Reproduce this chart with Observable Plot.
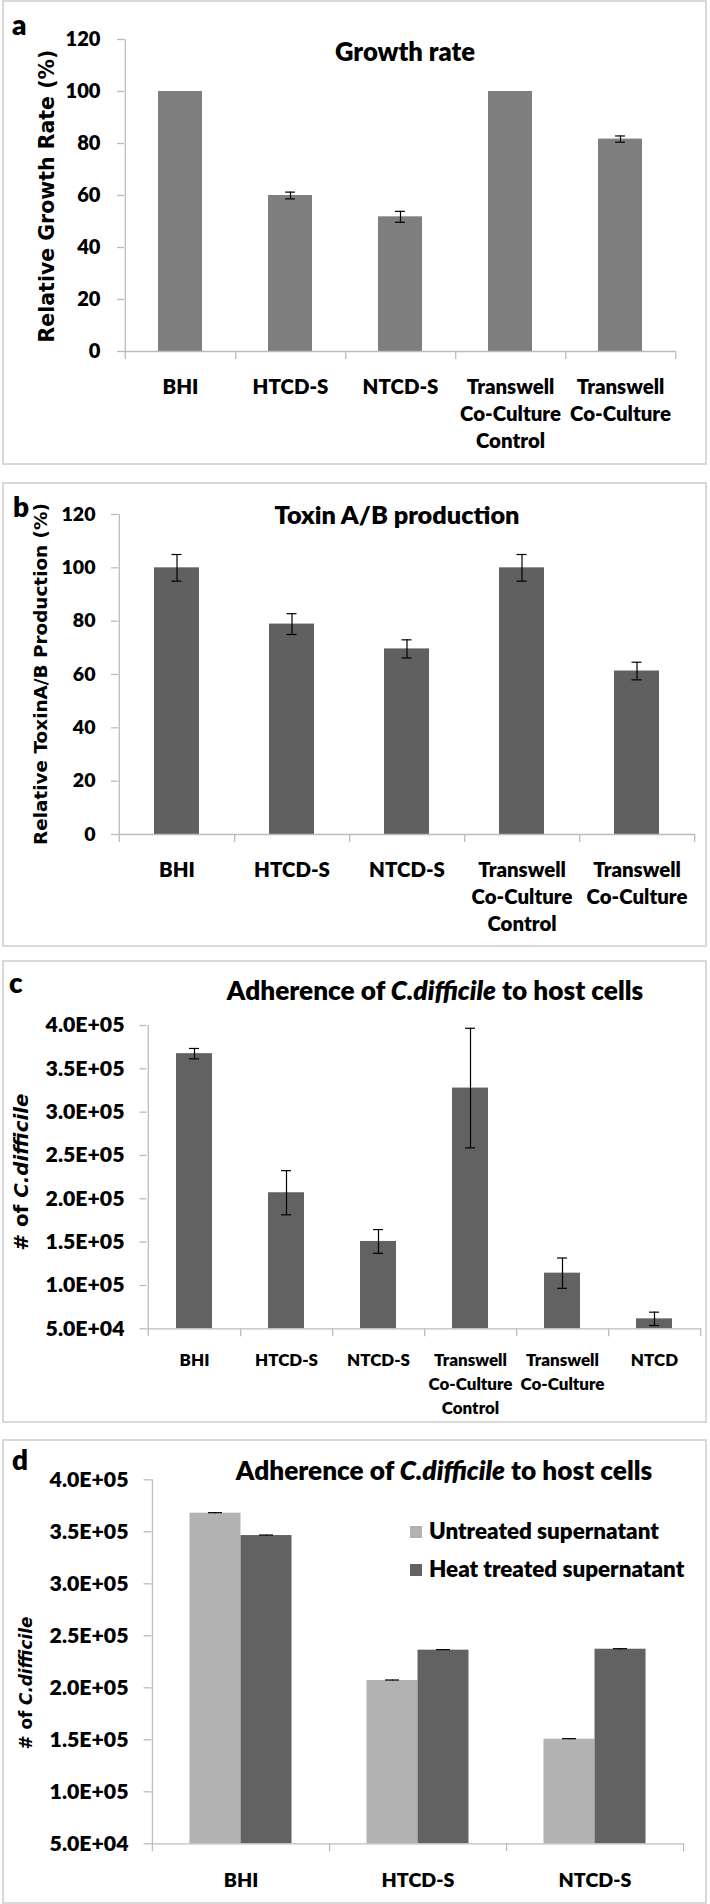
<!DOCTYPE html>
<html><head><meta charset="utf-8">
<script src="https://cdn.jsdelivr.net/npm/d3@7"></script>
<script src="https://cdn.jsdelivr.net/npm/@observablehq/plot@0.6"></script>
<style>
body{margin:0;background:#fff;}
#page{position:relative;width:710px;height:1904px;overflow:hidden;font-family:Lato,sans-serif;color:#000;}
.panel{position:absolute;left:2px;width:705px;box-sizing:border-box;border:2px solid #d9d9d9;z-index:5;pointer-events:none;}
.plotwrap{position:absolute;left:0;width:710px;}
.lbl{position:absolute;font-weight:800;font-size:28px;line-height:1;}
.title{position:absolute;font-weight:800;white-space:nowrap;transform:translate(-50%,-50%);line-height:1;}
.ytitle{position:absolute;font-family:"DejaVu Sans",sans-serif;font-weight:bold;white-space:nowrap;transform:translate(-50%,-50%) rotate(-90deg);line-height:1;}
.leg{position:absolute;font-weight:800;line-height:1;white-space:nowrap;}
.sw{position:absolute;width:12px;height:12px;}
</style></head><body><div id="page"></div>
<script>
// ---------- data ----------
const catsA = ["BHI", "HTCD-S", "NTCD-S", "Transwell Co-Culture Control", "Transwell Co-Culture"];
const labelsA = ["BHI", "HTCD-S", "NTCD-S", "Transwell\nCo-Culture\nControl", "Transwell\nCo-Culture"];
const growthRate = [100, 60, 51.8, 100, 81.7];
const growthErr = [0, 1.3, 2.1, 0, 1.2];
const toxinProd = [100, 78.9, 69.6, 100, 61.3];
const toxinErr = [5, 3.9, 3.4, 5, 3.3];
const catsC = ["BHI", "HTCD-S", "NTCD-S", "Transwell Co-Culture Control", "Transwell Co-Culture", "NTCD"];
const labelsC = ["BHI", "HTCD-S", "NTCD-S", "Transwell\nCo-Culture\nControl", "Transwell\nCo-Culture", "NTCD"];
const adherence = [367500, 207000, 150800, 327800, 114200, 61500];
const adherenceErr = [6000, 25500, 13700, 69000, 17500, 7700];
const catsD = ["BHI", "HTCD-S", "NTCD-S"];
const seriesD = ["Untreated supernatant", "Heat treated supernatant"];
const untreated = [367900, 207000, 150600];
const heatTreated = [346400, 236200, 237100];
const untreatedErr = [500, 500, 500];
const heatErr = [500, 500, 500];
const yTicksPct = [0, 20, 40, 60, 80, 100, 120];
const yTickLabelsPct = ["0", "20", "40", "60", "80", "100", "120"];
const yTicksCount = [50000, 100000, 150000, 200000, 250000, 300000, 350000, 400000];
const yTickLabelsCount = ["5.0E+04", "1.0E+05", "1.5E+05", "2.0E+05", "2.5E+05", "3.0E+05", "3.5E+05", "4.0E+05"];

const AXIS = "#bcbcbc";
const W = 800; // heavy weight for Lato text
const page = document.getElementById("page");

// font size fitting with canvas measurement
const cv = document.createElement("canvas").getContext("2d");
function textW(str, family, style, weight) {
  cv.font = `${style || "normal"} ${weight} 100px ${family}`;
  return cv.measureText(str).width;
}
function fit(parts, family, target, weight) {
  const w = parts.reduce((s, [t, st]) => s + textW(t, family, st, weight), 0);
  return 100 * target / w;
}
const LATO = "Lato";
const DJV = '"DejaVu Sans"';

function addDiv(cls, style, html) {
  const d = document.createElement("div");
  d.className = cls;
  Object.assign(d.style, style);
  if (html != null) d.innerHTML = html;
  page.appendChild(d);
  return d;
}

function axisMarks(o, cats, step) {
  const y0 = o.domain[0];
  const tickLabelOf = new Map(o.ticks.map((t, i) => [t, o.tickLabels[i]]));
  const labelOf = new Map(cats.map((c, i) => [c, o.labels[i]]));
  const xOffset = o.xCy - (o.axisY) - 0.36 * o.xFont;
  return [
    Plot.ruleY([y0], {stroke: AXIS, strokeWidth: 1.3}),
    Plot.ruleX([cats[0]], {x: d => d, dx: -step / 2, y1: () => o.domain[1], y2: () => y0, insetBottom: -8, stroke: AXIS, strokeWidth: 1.3}),
    Plot.ruleX(cats, {x: d => d, dx: step / 2, y1: () => y0, y2: () => y0, insetBottom: -8, stroke: AXIS, strokeWidth: 1.3}),
    Plot.axisY({ticks: o.ticks, tickFormat: d => tickLabelOf.get(d), tickSize: o.yTickSize, tickPadding: o.yPad,
      stroke: AXIS, strokeWidth: 1.3, fill: "#000", fontSize: o.tickFont, fontWeight: W, label: null}),
    Plot.axisX({tickSize: 0, tickPadding: xOffset, tickFormat: d => labelOf.get(d), fontSize: o.xFont,
      fontWeight: W, lineHeight: o.xLinePx / o.xFont, fill: "#000", label: null})
  ];
}

function barPanel(o) {
  const data = o.cats.map((c, i) => ({cat: c, v: o.values[i], e: o.errs[i]}));
  const n = o.cats.length;
  const step = (710 - o.ml - o.mr) / n;
  const bw = step * (1 - o.pad);
  const capInset = (bw - o.capW) / 2;
  const y0 = o.domain[0];
  const withErr = data.filter(d => d.e > 0);
  const chart = Plot.plot({
    width: 710, height: o.height,
    marginLeft: o.ml, marginRight: o.mr, marginTop: o.mt, marginBottom: o.mb,
    style: {fontFamily: "Lato, sans-serif", background: "transparent", overflow: "visible"},
    x: {type: "band", domain: o.cats, paddingInner: o.pad, paddingOuter: o.pad / 2},
    y: {domain: o.domain},
    marks: [
      Plot.barY(data, {x: "cat", y1: () => y0, y2: "v", fill: o.fill}),
      Plot.ruleX(withErr, {x: "cat", y1: d => d.v + d.e, y2: d => d.v - d.e, stroke: "#000", strokeWidth: 1.2}),
      Plot.tickY(withErr, {x: "cat", y: d => d.v + d.e, insetLeft: capInset, insetRight: capInset, stroke: "#000", strokeWidth: 1.2}),
      Plot.tickY(withErr, {x: "cat", y: d => d.v - d.e, insetLeft: capInset, insetRight: capInset, stroke: "#000", strokeWidth: 1.2}),
      ...axisMarks(o, o.cats, step)
    ]
  });
  const w = addDiv("plotwrap", {top: o.top + "px", height: o.height + "px"});
  w.appendChild(chart);
}

const cntTick = fit([["4.0E+05"]], LATO, 79, W);
const xFontAB = fit([["Co-Culture"]], LATO, 101, W);
const xFontC = fit([["Co-Culture"]], LATO, 84, W);
const xFontD = fit([["HTCD-S"]], LATO, 73, W);
const cdiffParts = [["Adherence of "], ["C.difficile", "italic"], [" to host cells"]];
const titleCD = fit(cdiffParts, LATO, 417, W);

// ---------- panel a ----------
addDiv("panel", {top: "0px", height: "465px"});
barPanel({top: 0, height: 465, ml: 124, mr: 34, mt: 39, mb: 114, axisY: 351,
  cats: catsA, labels: labelsA, values: growthRate, errs: growthErr, fill: "#7f7f7f",
  domain: [0, 120], ticks: yTicksPct, tickLabels: yTickLabelsPct, pad: 0.6, capW: 10,
  tickFont: fit([["120"]], LATO, 35, W), yTickSize: 7, yPad: 17, xFont: xFontAB, xLinePx: 27, xCy: 382});
addDiv("lbl", {left: "12px", top: "10px"}, "a");
addDiv("title", {left: "405px", top: "52px", fontSize: fit([["Growth rate"]], LATO, 140, W) + "px"}, "Growth rate");
addDiv("ytitle", {left: "47px", top: "196px", fontSize: fit([["Relative Growth Rate (%)"]], DJV, 293, "bold") + "px"}, "Relative Growth Rate (%)");

// ---------- panel b ----------
addDiv("panel", {top: "482px", height: "465px"});
barPanel({top: 482, height: 465, ml: 118, mr: 15, mt: 32, mb: 113, axisY: 834,
  cats: catsA, labels: labelsA, values: toxinProd, errs: toxinErr, fill: "#606060",
  domain: [0, 120], ticks: yTicksPct, tickLabels: yTickLabelsPct, pad: 0.61, capW: 10,
  tickFont: fit([["120"]], LATO, 34, W), yTickSize: 7, yPad: 16, xFont: xFontAB, xLinePx: 27, xCy: 865});
addDiv("lbl", {left: "13px", top: "492px"}, "b");
addDiv("title", {left: "397px", top: "515px", fontSize: fit([["Toxin A/B production"]], LATO, 246, W) + "px"}, "Toxin A/B production");
addDiv("ytitle", {left: "41px", top: "674px", fontSize: fit([["Relative ToxinA/B Production (%)"]], DJV, 342, "bold") + "px"}, "Relative ToxinA/B Production (%)");

// ---------- panel c ----------
addDiv("panel", {top: "960px", height: "463px"});
barPanel({top: 960, height: 463, ml: 146.5, mr: 9, mt: 65, mb: 94.7, axisY: 1328.3,
  cats: catsC, labels: labelsC, values: adherence, errs: adherenceErr, fill: "#626262",
  domain: [50000, 400000], ticks: yTicksCount, tickLabels: yTickLabelsCount, pad: 0.61, capW: 10,
  tickFont: cntTick, yTickSize: 7, yPad: 15.5, xFont: xFontC, xLinePx: 24, xCy: 1355});
addDiv("lbl", {left: "9px", top: "968px"}, "c");
addDiv("title", {left: "435px", top: "990px", fontSize: titleCD + "px"}, "Adherence of <i>C.difficile</i> to host cells");
addDiv("ytitle", {left: "22px", top: "1172px", fontSize: fit([["# of "], ["C.difficile", "italic"]], DJV, 157, "bold") + "px"}, "# of <i>C.difficile</i>");

// ---------- panel d ----------
(function () {
  const o = {top: 1439, height: 465, ml: 151.5, mr: 27, mt: 40.3, mb: 60.7, axisY: 1843.3,
    labels: catsD, domain: [50000, 400000], ticks: yTicksCount, tickLabels: yTickLabelsCount,
    tickFont: cntTick, yTickSize: 8, yPad: 15.5, xFont: xFontD, xLinePx: 26, xCy: 1875};
  const pad = 0.712;
  const step = (710 - o.ml - o.mr) / catsD.length;
  const bw = step * (1 - pad);
  const capInset = (bw - 14) / 2;
  const y0 = o.domain[0];
  const sU = catsD.map((c, i) => ({cat: c, v: untreated[i], e: untreatedErr[i]}));
  const sH = catsD.map((c, i) => ({cat: c, v: heatTreated[i], e: heatErr[i]}));
  const colors = ["#b2b2b2", "#626262"];
  const errMarks = (data, dx) => [
    Plot.ruleX(data, {x: "cat", dx, y1: d => d.v + d.e, y2: d => d.v - d.e, stroke: "#000", strokeWidth: 1}),
    Plot.tickY(data, {x: "cat", dx, y: d => d.v + d.e, insetLeft: capInset, insetRight: capInset, stroke: "#000", strokeWidth: 1.2})
  ];
  const chart = Plot.plot({
    width: 710, height: o.height,
    marginLeft: o.ml, marginRight: o.mr, marginTop: o.mt, marginBottom: o.mb,
    style: {fontFamily: "Lato, sans-serif", background: "transparent", overflow: "visible"},
    x: {type: "band", domain: catsD, paddingInner: pad, paddingOuter: pad / 2},
    y: {domain: o.domain},
    marks: [
      Plot.barY(sU, {x: "cat", dx: -bw / 2, y1: () => y0, y2: "v", fill: colors[0]}),
      Plot.barY(sH, {x: "cat", dx: bw / 2, y1: () => y0, y2: "v", fill: colors[1]}),
      ...errMarks(sU, -bw / 2),
      ...errMarks(sH, bw / 2),
      ...axisMarks(o, catsD, step)
    ]
  });
  addDiv("panel", {top: "1439px", height: "465px"});
  const w = addDiv("plotwrap", {top: o.top + "px", height: o.height + "px"});
  w.appendChild(chart);
  addDiv("lbl", {left: "12px", top: "1445px"}, "d");
  addDiv("title", {left: "444px", top: "1470px", fontSize: titleCD + "px"}, "Adherence of <i>C.difficile</i> to host cells");
  addDiv("ytitle", {left: "26px", top: "1683px", fontSize: fit([["# of "], ["C.difficile", "italic"]], DJV, 133, "bold") + "px"}, "# of <i>C.difficile</i>");
  const legFont = fit([["Untreated supernatant"]], LATO, 230, W);
  seriesD.forEach((s, i) => {
    const cy = [1532, 1570][i];
    addDiv("sw", {left: "410px", top: (cy - 6) + "px", background: colors[i]});
    addDiv("leg", {left: "429px", top: (cy - 0.53 * legFont) + "px", fontSize: legFont + "px"}, s);
  });
})();
</script>
</body></html>
